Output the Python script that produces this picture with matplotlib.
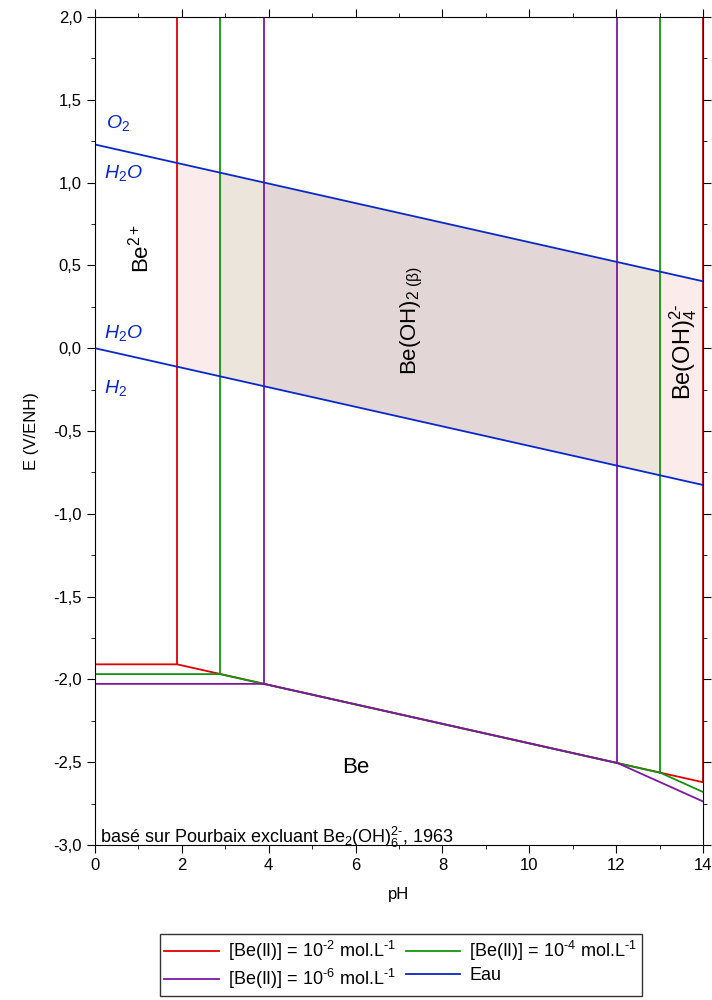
import numpy as np
import matplotlib
matplotlib.use('Agg')
import matplotlib.pyplot as plt
from matplotlib.ticker import MultipleLocator, FuncFormatter

plt.rcParams['font.family'] = ['Liberation Sans', 'DejaVu Sans']
plt.rcParams['mathtext.fontset'] = 'custom'
plt.rcParams['mathtext.rm'] = 'Liberation Sans'
plt.rcParams['mathtext.it'] = 'Liberation Sans:italic'
plt.rcParams['mathtext.default'] = 'regular'

# boundary lines (pH, E) for each [Be(II)]
ph_c2 = [0, 1.89, 14]
e_c2 = [-1.909, -1.909, -2.621]
ph_c4 = [0, 2.88, 13.02, 14]
e_c4 = [-1.968, -1.968, -2.564, -2.680]
ph_c6 = [0, 3.89, 12.03, 14]
e_c6 = [-2.027, -2.027, -2.505, -2.737]

# vertical boundaries Be2+/Be(OH)2 and Be(OH)2/Be(OH)4 2-
vert_c2 = [1.89, 14.0]
vert_c4 = [2.88, 13.02]
vert_c6 = [3.89, 12.03]

# water lines
ph_eau = [0, 14]
e_o2 = [1.23, 0.404]
e_h2 = [0.0, -0.826]

red = '#e00000'
green = '#10960e'
purple = '#7b1aa0'
blue = '#0a28c8'

fig = plt.figure(figsize=(7.12, 10), dpi=100)
ax = fig.add_axes([0.1334, 0.155, 0.854, 0.828])

def water_fill(x0, x1, color, alpha):
    xs = np.array([x0, x1])
    top = np.interp(xs, ph_eau, e_o2)
    bot = np.interp(xs, ph_eau, e_h2)
    ax.fill_between(xs, bot, top, color=color, alpha=alpha, lw=0)

water_fill(vert_c2[0], vert_c2[1], red, 0.08)
water_fill(vert_c4[0], vert_c4[1], green, 0.07)
water_fill(vert_c6[0], vert_c6[1], purple, 0.07)

ln2, = ax.plot(ph_c2, e_c2, color=red, lw=1.3)
ln4, = ax.plot(ph_c4, e_c4, color=green, lw=1.3)
ln6, = ax.plot(ph_c6, e_c6, color=purple, lw=1.3)
for x in vert_c2:
    ax.plot([x, x], [np.interp(x, ph_c2, e_c2), 2.0], color=red, lw=1.3)
for x in vert_c4:
    ax.plot([x, x], [np.interp(x, ph_c4, e_c4), 2.0], color=green, lw=1.3)
for x in vert_c6:
    ax.plot([x, x], [np.interp(x, ph_c6, e_c6), 2.0], color=purple, lw=1.3)

lneau, = ax.plot(ph_eau, e_o2, color=blue, lw=1.3)
ax.plot(ph_eau, e_h2, color=blue, lw=1.3)

ax.set_xlim(0, 14)
ax.set_ylim(-3, 2)
ax.xaxis.set_major_locator(MultipleLocator(2))
ax.xaxis.set_minor_locator(MultipleLocator(1))
ax.yaxis.set_major_locator(MultipleLocator(0.5))
ax.yaxis.set_minor_locator(MultipleLocator(0.25))
ax.yaxis.set_major_formatter(FuncFormatter(lambda v, p: ('%.1f' % v).replace('.', ',')))
ax.tick_params(which='both', direction='out', top=True, right=True, labelsize=12)
ax.tick_params(which='major', length=6)
ax.tick_params(which='minor', length=3)
ax.set_xlabel('pH', fontsize=12, labelpad=10)
ax.set_ylabel('E (V/ENH)', fontsize=12, labelpad=10)

# species labels
ax.text(0.25, 1.33, r'$\mathit{O_2}$', color=blue, fontsize=14)
ax.text(0.2, 1.03, r'$\mathit{H_2O}$', color=blue, fontsize=14)
ax.text(0.2, 0.06, r'$\mathit{H_2O}$', color=blue, fontsize=14)
ax.text(0.2, -0.27, r'$\mathit{H_2}$', color=blue, fontsize=14)
ax.text(1.05, 0.6, r'Be$^{2+}$', rotation=90, fontsize=16, ha='center', va='center')
ax.text(7.3, 0.17, r'Be(OH)$_{2\ (\beta)}$', rotation=90, fontsize=16, ha='center', va='center')
ax.text(13.55, -0.02, r'Be(OH)$_4^{2\text{-}}$', rotation=90, fontsize=17, ha='center', va='center')
ax.text(6.0, -2.53, 'Be', fontsize=16, ha='center', va='center')
ax.text(0.12, -2.985, r'basé sur Pourbaix excluant Be$_2$(OH)$_6^{2\text{-}}$, 1963', fontsize=13,
        va='baseline')

handles = [ln2, ln6, ln4, lneau]
labels = [r'[Be(II)] = 10$^{\text{-}2}$ mol.L$^{\text{-}1}$', r'[Be(II)] = 10$^{\text{-}6}$ mol.L$^{\text{-}1}$',
          r'[Be(II)] = 10$^{\text{-}4}$ mol.L$^{\text{-}1}$', 'Eau']
fig.legend(handles, labels, ncol=2, loc='lower center', bbox_to_anchor=(0.563, -0.005),
           fontsize=13, frameon=True, fancybox=False, edgecolor='black',
           handlelength=3.0, columnspacing=0.6, labelspacing=0.25, borderpad=0.25,
           handletextpad=0.5)

plt.savefig('out.png', dpi=100)
